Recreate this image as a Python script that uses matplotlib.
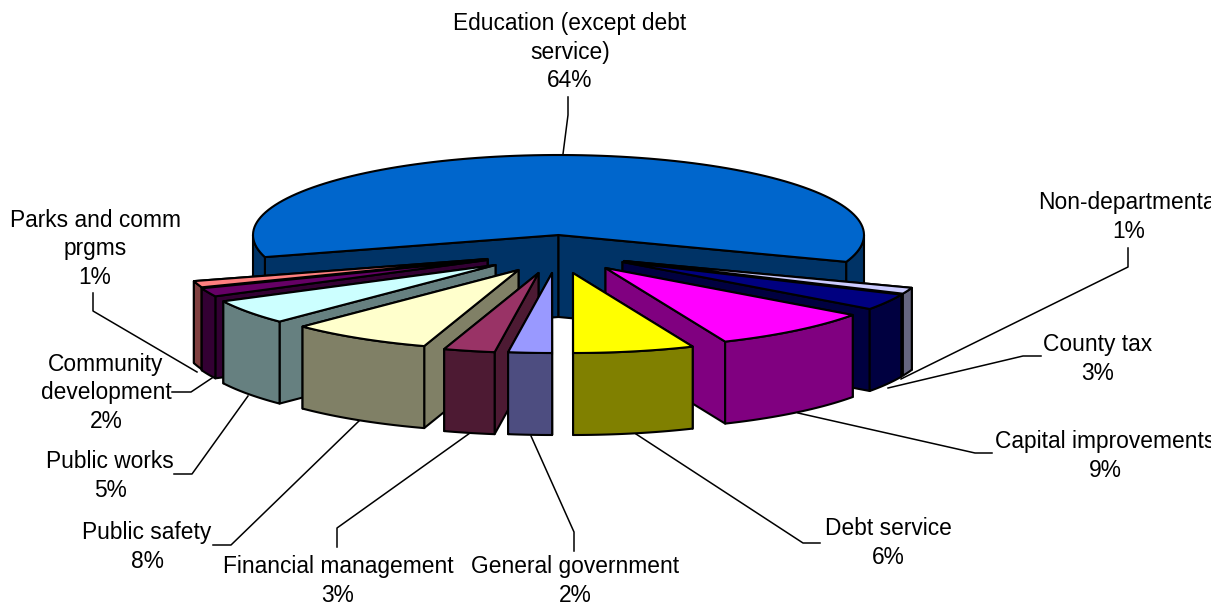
import numpy as np
import matplotlib
matplotlib.use('Agg')
import matplotlib.pyplot as plt
from matplotlib.patches import Polygon
from matplotlib.transforms import Bbox, TransformedBbox

plt.rcParams['font.family'] = ['Liberation Sans', 'DejaVu Sans']

# clockwise from the top, shares
names = ['Education', 'Non-departmental', 'County tax', 'Capital improvements', 'Debt service',
         'General government', 'Financial management', 'Public safety', 'Public works',
         'Community development', 'Parks and comm prgms']
shares = [59.9, 1.25, 3.3, 8.6, 6.4, 2.3, 2.7, 7.5, 5.0, 1.75, 1.3]
labels = ['Education (except debt\nservice)\n64%', 'Non-departmental\n1%', 'County tax\n3%',
          'Capital improvements\n9%', 'Debt service\n6%', 'General government\n2%',
          'Financial management\n3%', 'Public safety\n8%', 'Public works\n5%',
          'Community\ndevelopment\n2%', 'Parks and comm\nprgms\n1%']
top_colors = ['#0066CC', '#CCCCFF', '#000080', '#FF00FF', '#FFFF00', '#9999FF',
              '#993366', '#FFFFCC', '#CCFFFF', '#660066', '#FF8080']
wall_colors = ['#003366', '#666680', '#000040', '#800080', '#808000', '#4D4D80',
               '#4D1A33', '#808066', '#668080', '#330033', '#804040']

# layout, in pixels of the output
cx, cy = 558.5, 235
rx, ry = 305.5, 80
depth = 82
edu_end = 109.6  # degrees clockwise from the top where Education stops
explode = [(0, 0), (65.5, 26), (64, 27), (47, 33), (14.5, 38), (-6.5, 38),
           (-20, 38), (-40, 35), (-63, 30), (-71, 25), (-71, 24)]
label_pos = [(570, 52), (1129, 217), (1098, 359), (1105, 456), (888, 543), (575, 581),
             (338, 581), (147, 547), (110, 476), (106, 393), (95, 249)]
leaders = [
    [(563, 154), (568, 115), (568, 97)],
    [(1128, 248), (1128, 267), (901, 379)],
    [(1041, 356), (1023, 356), (888, 388)],
    [(992, 453), (975, 453), (798, 413)],
    [(820, 543), (803, 543), (636, 434)],
    [(531, 436), (574, 532), (574, 551)],
    [(470, 433), (337, 528), (337, 547)],
    [(360, 420), (231, 545), (213, 545)],
    [(248, 396), (192, 474), (174, 474)],
    [(212, 378), (191, 392), (172, 392)],
    [(197, 372), (93, 311), (93, 293)],
]

sweeps = np.array(shares) / sum(shares) * 360
starts = edu_end - sweeps[0] + np.concatenate([[0], np.cumsum(sweeps)[:-1]])
ends = starts + sweeps


def rim(theta, x0, y0):
    t = np.radians(theta)
    return np.column_stack([x0 + rx * np.sin(t), y0 - ry * np.cos(t)])


def draw_wall(ax, pts, color, z):
    low = pts + [0, depth]
    ax.add_patch(Polygon(np.vstack([pts, low[::-1]]), closed=True, facecolor=color,
                         edgecolor='black', linewidth=1.5, joinstyle='round', zorder=z))


def draw_slice(ax, a, b, offset, top, wall, z):
    x0, y0 = cx + offset[0], cy + offset[1]
    apex = np.array([[x0, y0]])

    # radial walls, the upper one first
    first, second = (a, b) if np.cos(np.radians(a)) > np.cos(np.radians(b)) else (b, a)
    for t in (first, second):
        draw_wall(ax, np.vstack([apex, rim(np.array([t]), x0, y0)]), wall, z)
    # outer wall, only the part in the lower half of the ellipse
    for lo, hi in [(90, 270), (-270, -90)]:
        s, e = max(a, lo), min(b, hi)
        if e > s:
            draw_wall(ax, rim(np.linspace(s, e, 60), x0, y0), wall, z)
    pts = np.vstack([apex, rim(np.linspace(a, b, 120), x0, y0)])
    ax.add_patch(Polygon(pts, closed=True, facecolor=top, edgecolor='black',
                         linewidth=1.5, joinstyle='round', zorder=z))


fig = plt.figure(figsize=(12.26, 6.07), dpi=100)
ax = fig.add_axes([0, 0, 1, 1])
ax.set_xlim(0, 1226)
ax.set_ylim(607, 0)
ax.axis('off')

# back to front: the further a wedge is from the bottom, the earlier it goes
mids = (starts + ends) / 2
order = sorted(range(len(names)), key=lambda i: np.cos(np.radians(mids[i])), reverse=True)
for z, i in enumerate(order):
    draw_slice(ax, starts[i], ends[i], explode[i], top_colors[i], wall_colors[i], z + 2)

for path in leaders:
    xs, ys = zip(*path)
    ax.plot(xs, ys, color='black', linewidth=1.1, zorder=1)

clip = TransformedBbox(Bbox([[0, 0], [1211, 607]]), ax.transData)
for text, (x, y) in zip(labels, label_pos):
    t = ax.text(x, y, text, ha='center', va='center', fontsize=16.4, color='black',
                linespacing=1.32, zorder=40)
    t.set_clip_box(clip)
    t.set_clip_on(True)

fig.savefig('out.png', dpi=100, facecolor='white')
plt.close(fig)
